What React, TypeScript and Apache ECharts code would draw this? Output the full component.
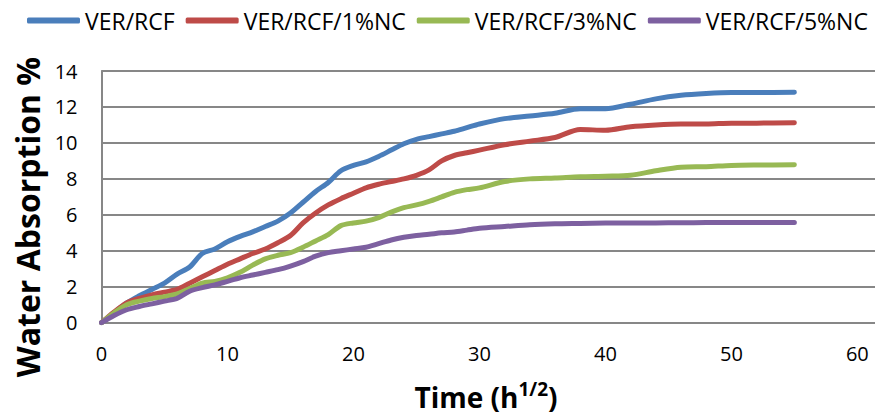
import React, { useEffect, useRef } from "react";
import * as echarts from "echarts";

// Square-root-of-time axis (h^1/2)
const timeSqrtH = [
  0, 1, 2, 3, 4, 5, 6, 7, 8, 9, 10, 11, 12, 13, 14, 15, 16, 17, 18, 19, 20,
  21, 22, 23, 24, 25, 26, 27, 28, 29, 30, 32, 34, 36, 38, 40, 42, 44, 46, 48,
  50, 52, 55,
];

// Water absorption (%) for each composite
const verRcf = [
  0, 0.55, 1.1, 1.5, 1.85, 2.2, 2.7, 3.1, 3.85, 4.1, 4.5, 4.8, 5.05, 5.35,
  5.65, 6.1, 6.7, 7.3, 7.8, 8.45, 8.75, 8.95, 9.25, 9.6, 9.95, 10.2, 10.35,
  10.5, 10.65, 10.85, 11.05, 11.35, 11.5, 11.65, 11.9, 11.9, 12.15, 12.45,
  12.65, 12.75, 12.8, 12.8, 12.82,
];
const verRcf1Nc = [
  0, 0.6, 1.1, 1.35, 1.55, 1.7, 1.85, 2.2, 2.55, 2.9, 3.25, 3.55, 3.85, 4.1,
  4.45, 4.85, 5.55, 6.1, 6.55, 6.9, 7.2, 7.5, 7.7, 7.85, 8.0, 8.2, 8.5, 9.0,
  9.3, 9.45, 9.6, 9.9, 10.1, 10.3, 10.75, 10.7, 10.9, 11.0, 11.05, 11.05,
  11.1, 11.1, 11.12,
];
const verRcf3Nc = [
  0, 0.55, 1.0, 1.2, 1.35, 1.45, 1.6, 1.9, 2.2, 2.3, 2.5, 2.8, 3.2, 3.55,
  3.75, 3.9, 4.2, 4.55, 4.9, 5.4, 5.55, 5.65, 5.85, 6.15, 6.4, 6.55, 6.75,
  7.0, 7.25, 7.4, 7.5, 7.85, 8.0, 8.05, 8.12, 8.15, 8.2, 8.45, 8.65, 8.68,
  8.75, 8.77, 8.78,
];
const verRcf5Nc = [
  0, 0.4, 0.72, 0.9, 1.05, 1.2, 1.35, 1.75, 1.95, 2.1, 2.3, 2.5, 2.65, 2.8,
  2.95, 3.15, 3.4, 3.7, 3.9, 4.0, 4.1, 4.2, 4.4, 4.6, 4.75, 4.85, 4.92, 5.0,
  5.05, 5.15, 5.25, 5.35, 5.45, 5.5, 5.52, 5.54, 5.55, 5.55, 5.56, 5.57,
  5.58, 5.58, 5.58,
];

const seriesNames = ["VER/RCF", "VER/RCF/1%NC", "VER/RCF/3%NC", "VER/RCF/5%NC"];
const seriesValues = [verRcf, verRcf1Nc, verRcf3Nc, verRcf5Nc];
const seriesColors = ["#4A7EBB", "#BE4B48", "#98B954", "#7D60A0"];

const yTicks = { min: 0, max: 14, interval: 2 };
const xTicks = { min: 0, max: 61.4, interval: 10 };

const FONT = "'Open Sans', 'Noto Sans', sans-serif";
const GRID_GRAY = "#878787";

export default function App() {
  const ref = useRef<HTMLDivElement>(null);

  useEffect(() => {
    if (!ref.current) return;
    const chart = echarts.init(ref.current, undefined, { renderer: "svg" });

    chart.setOption({
      animation: false,
      backgroundColor: "#ffffff",
      textStyle: { fontFamily: FONT },
      legend: {
        left: 22,
        top: 4,
        icon: "roundRect",
        itemWidth: 53,
        itemHeight: 6,
        itemGap: 11,
        textStyle: { fontFamily: FONT, fontSize: 23, color: "#000" },
        data: seriesNames,
      },
      grid: { left: 101.5, right: 0, top: 71, bottom: 93.3 },
      xAxis: {
        type: "value",
        min: xTicks.min,
        max: xTicks.max,
        interval: xTicks.interval,
        axisLine: { show: true, lineStyle: { color: GRID_GRAY, width: 2 } },
        axisTick: { show: false },
        splitLine: { show: false },
        axisLabel: {
          showMaxLabel: false,
          margin: 21,
          fontFamily: FONT,
          fontSize: 20,
          color: "#000",
        },
      },
      yAxis: {
        type: "value",
        min: yTicks.min,
        max: yTicks.max,
        interval: yTicks.interval,
        axisLine: { show: true, lineStyle: { color: GRID_GRAY, width: 2 } },
        axisTick: { show: false },
        splitLine: { show: true, lineStyle: { color: GRID_GRAY, width: 2 } },
        axisLabel: {
          margin: 24,
          fontFamily: FONT,
          fontSize: 20,
          color: "#000",
        },
      },
      graphic: [
        {
          type: "text",
          x: 27,
          y: 217,
          rotation: Math.PI / 2,
          style: {
            text: "Water Absorption %",
            font: `bold 32px ${FONT}`,
            fill: "#000",
            align: "center",
            verticalAlign: "middle",
          },
        },
        {
          type: "text",
          x: 486,
          y: 397,
          style: {
            text: "{a|Time (h}{b|1/2}{a|)}",
            align: "center",
            verticalAlign: "middle",
            rich: {
              a: {
                fontFamily: FONT,
                fontWeight: "bold",
                fontSize: 28,
                lineHeight: 36,
                fill: "#000",
              },
              b: {
                fontFamily: FONT,
                fontWeight: "bold",
                fontSize: 19,
                lineHeight: 36,
                verticalAlign: "top",
                fill: "#000",
              },
            },
          },
        },
      ],
      series: seriesNames.map((name, i) => ({
        name,
        type: "line",
        smooth: 0.3,
        symbol: "none",
        color: seriesColors[i],
        lineStyle: { width: 5, color: seriesColors[i], cap: "round", join: "round" },
        data: timeSqrtH.map((t, j) => [t, seriesValues[i][j]]),
      })),
    });

    return () => chart.dispose();
  }, []);

  return (
    <div
      ref={ref}
      style={{ position: "absolute", left: 0, top: 0, width: 875, height: 416 }}
    />
  );
}
